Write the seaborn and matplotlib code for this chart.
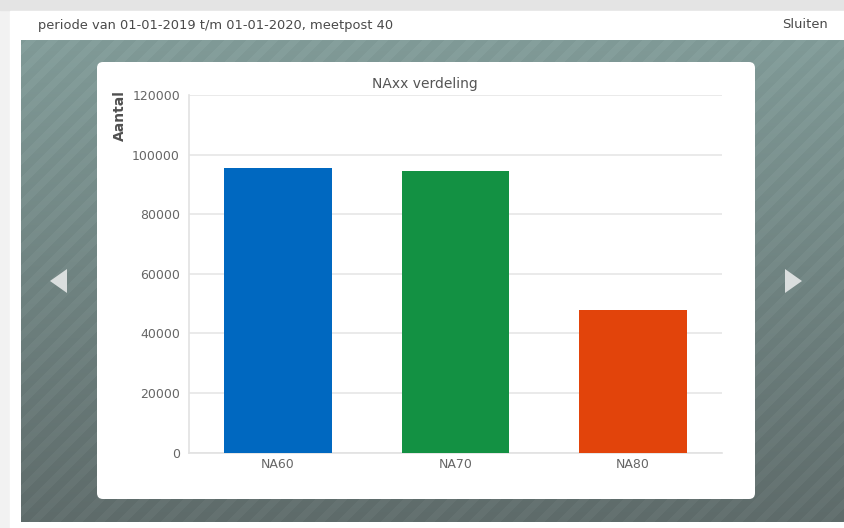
import numpy as np
import pandas as pd
import matplotlib
matplotlib.use("Agg")
import matplotlib.pyplot as plt
from matplotlib.patches import Rectangle, FancyBboxPatch, Polygon
import seaborn as sns

# Data
categories = ["NA60", "NA70", "NA80"]
counts = [95400, 94600, 48000]
bar_colors = ["#0068c0", "#139143", "#e2440b"]
y_ticks = [0, 20000, 40000, 60000, 80000, 100000, 120000]

header_text = "periode van 01-01-2019 t/m 01-01-2020, meetpost 40"
close_text = "Sluiten"
chart_title = "NAxx verdeling"
y_label = "Aantal"

sns.set_theme(style="white")
plt.rcParams["font.family"] = ["DejaVu Sans"]

W, H = 845, 528
fig = plt.figure(figsize=(W / 100, H / 100), dpi=100)
fig.patch.set_facecolor("white")

# Background layer in pixel coordinates
bg = fig.add_axes([0, 0, 1, 1], zorder=0)
bg.axis("off")

# page behind the dialog
bg.add_patch(Rectangle((0, 0), W, H, color="#f2f2f2", zorder=0))
bg.add_patch(Rectangle((0, 0), W, 10, color="#e4e4e4", zorder=0))
# dialog
bg.add_patch(Rectangle((10, 11), W - 10, H - 11, color="white", zorder=1))

# striped slate panel with vertical gradient
px0, px1, py0, py1 = 21, W, 40, 522
yy, xx = np.mgrid[py0:py1, px0:px1]
t = (yy - py0) / (py1 - py0)
top = np.array([0x80, 0x9a, 0x97]) / 255
bot = np.array([0x5e, 0x6b, 0x6a]) / 255
img = top[None, None, :] * (1 - t[..., None]) + bot[None, None, :] * t[..., None]
stripe = (((xx + yy) % 22) < 10).astype(float) * 0.022
img = np.clip(img + stripe[..., None], 0, 1)
bg.imshow(img, extent=(px0, px1, py1, py0), zorder=2, interpolation="bilinear",
          aspect="auto")
bg.set_xlim(0, W)
bg.set_ylim(H, 0)

# white card holding the chart
bg.add_patch(FancyBboxPatch((97, 62), 755 - 97, 499 - 62,
                            boxstyle="round,pad=0,rounding_size=6",
                            fc="white", ec="none", zorder=3))

# navigation arrows
bg.add_patch(Polygon([[67, 269], [67, 293], [50, 281]], closed=True,
                     fc="#dadede", ec="none", zorder=4))
bg.add_patch(Polygon([[785, 269], [785, 293], [802, 281]], closed=True,
                     fc="#dadede", ec="none", zorder=4))

# header texts
bg.text(38, 25, header_text, fontsize=9.4, color="#4a4a4a",
        ha="left", va="center", zorder=5)
bg.text(828, 25, close_text, fontsize=9.4, color="#4a4a4a",
        ha="right", va="center", zorder=5)
bg.text(425, 84, chart_title, fontsize=10, color="#555555",
        ha="center", va="center", zorder=5)
bg.text(119.5, 116, y_label, fontsize=10, color="#505050", fontweight="bold",
        rotation=90, ha="center", va="center", zorder=5)

# Chart axes
L, R, T, B = 189, 722, 95, 452.5
ax = fig.add_axes([L / W, 1 - B / H, (R - L) / W, (B - T) / H], zorder=2)
ax.set_facecolor("none")

df = pd.DataFrame({"categorie": categories, "aantal": counts})
sns.barplot(data=df, x="categorie", y="aantal", hue="categorie",
            palette=bar_colors, width=0.605, legend=False, ax=ax,
            saturation=1, edgecolor="none", linewidth=0, zorder=3)

ax.set_xlim(-0.5, 2.5)
ax.set_ylim(0, 120000)
ax.set_yticks(y_ticks)
ax.set_yticklabels([str(v) for v in y_ticks])
ax.yaxis.grid(True, color="#e6e6e6", linewidth=1.2, zorder=0)
ax.set_axisbelow(True)
ax.set_xlabel("")
ax.set_ylabel("")
for side in ["top", "right"]:
    ax.spines[side].set_visible(False)
ax.spines["left"].set_color("#e2e2e2")
ax.spines["left"].set_linewidth(1.2)
ax.spines["bottom"].set_color("#e2e2e2")
ax.spines["bottom"].set_linewidth(1.2)
ax.tick_params(axis="both", length=0, labelsize=9, colors="#666666")
ax.tick_params(axis="y", pad=6.5)
ax.tick_params(axis="x", pad=4)

fig.savefig("out.png", dpi=100)
